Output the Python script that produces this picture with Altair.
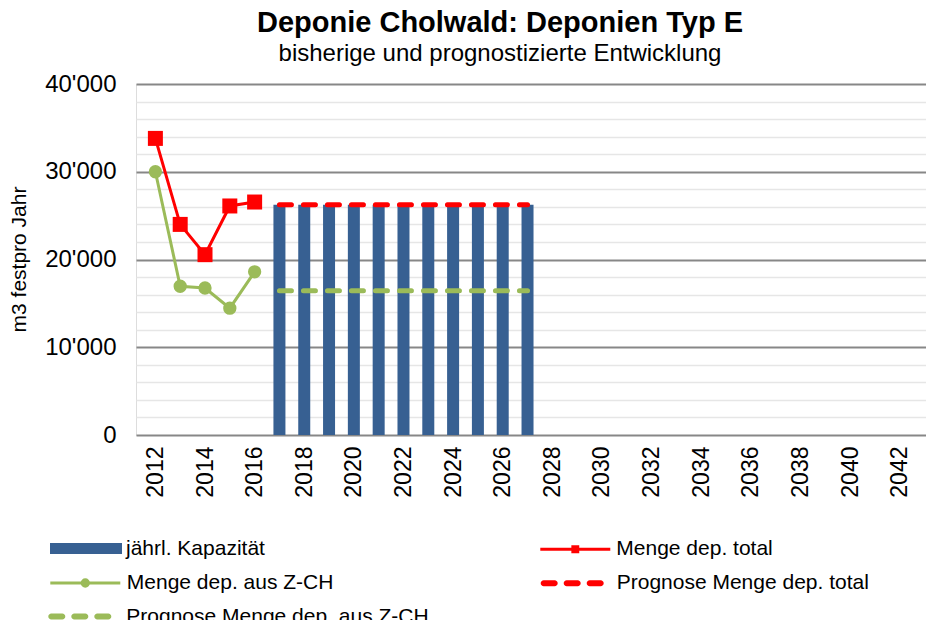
import altair as alt
import pandas as pd

# ---- data ----
years_hist = [2012, 2013, 2014, 2015, 2016]
menge_total = [33800, 24000, 20550, 26100, 26550]
menge_zch = [30000, 16950, 16750, 14450, 18600]

years_prog = [2017, 2018, 2019, 2020, 2021, 2022, 2023, 2024, 2025, 2026, 2027]
kapazitaet = [26250, 26250, 26250, 26250, 26250, 26250, 26250, 26250, 26250, 26250, 26250]
prognose_total = [26250, 26250, 26250, 26250, 26250, 26250, 26250, 26250, 26250, 26250, 26250]
prognose_zch = [16450, 16450, 16450, 16450, 16450, 16450, 16450, 16450, 16450, 16450, 16450]

x_ticks = [2012, 2014, 2016, 2018, 2020, 2022, 2024, 2026, 2028, 2030,
           2032, 2034, 2036, 2038, 2040, 2042]
y_ticks = list(range(0, 40001, 2000))

names = ["jährl. Kapazität", "Menge dep. total", "Menge dep. aus Z-CH",
         "Prognose Menge dep. total", "Prognose Menge dep. aus Z-CH"]

BLUE = "#376092"
RED = "#FF0000"
GREEN = "#9BBB59"
FONT = "Liberation Sans"

# legend symbol shapes (unit coordinates, scaled by the legend symbol size)
SYM_BAR = "M-1,-0.15H1V0.15H-1Z"
SYM_SQUARE_LINE = "M-1,0H1M-0.07,-0.07H0.07V0.07H-0.07Z"
SYM_CIRCLE_LINE = "M-1,0H1M0.09,0A0.09,0.09,0,1,1,-0.09,0A0.09,0.09,0,1,1,0.09,0Z"
R = 0.0952
SYM_DASHES = " ".join(
    f"M{a},{-R}H{b}A{R},{R},0,0,1,{b},{R}H{a}A{R},{R},0,0,1,{a},{-R}Z"
    for a, b in [(-0.9048, -0.5556), (-0.1746, 0.1746), (0.5556, 0.9048)]
)


def frame(years, values, name):
    return pd.DataFrame({"Jahr": years, "Wert": values, "Serie": name})


x_enc = alt.X(
    "Jahr:Q",
    scale=alt.Scale(domain=[2011.42, 2042.86], nice=False, zero=False),
    axis=alt.Axis(values=x_ticks, format="d", labelAngle=270, labelFont=FONT,
                  labelFontSize=23, labelColor="black", labelPadding=11,
                  ticks=False, domain=False, grid=False, title=None,
                  labelOverlap=False),
)
y_enc = alt.Y(
    "Wert:Q",
    scale=alt.Scale(domain=[0, 40000], nice=False),
    axis=alt.Axis(
        values=y_ticks,
        labelExpr="datum.value % 10000 === 0 ? replace(format(datum.value, ','), ',', \"'\") : ''",
        gridColor={"condition": {"test": "datum.value % 10000 === 0", "value": "#878787"},
                   "value": "#e6e6e6"},
        gridWidth={"condition": {"test": "datum.value % 10000 === 0", "value": 2},
                   "value": 1.5},
        ticks=False, domain=False, labelPadding=20, labelFont=FONT,
        labelFontSize=24, labelColor="black", labelOverlap=False,
        title="m3 festpro Jahr", titleFont=FONT, titleFontSize=21,
        titleFontWeight="normal", titleColor="black", titleAngle=270,
        titleBaseline="bottom", titleAlign="center", titleX=-107, titleY=175,
    ),
)


def legend(path, size, sw, lx, ly, lo, fill=None):
    kw = dict(orient="none", legendX=lx, legendY=ly, title=None,
              symbolType=path, symbolSize=size, symbolStrokeWidth=sw,
              labelOffset=lo, labelFont=FONT, labelFontSize=21, labelLimit=500,
              labelColor="black", padding=0, symbolOpacity=1)
    if fill is not None:
        kw["symbolFillColor"] = fill
    return alt.Legend(**kw)


def color(name, col, leg):
    return alt.Color("Serie:N", scale=alt.Scale(domain=[name], range=[col]), legend=leg)


bars = alt.Chart(frame(years_prog, kapazitaet, names[0])).mark_bar(
    orient="vertical", size=12
).encode(
    x=x_enc, y=y_enc,
    color=color(names[0], BLUE, legend(SYM_BAR, 5184, 0, -86, 428.5, 4)),
)

prog_zch = alt.Chart(frame(years_prog, prognose_zch, names[4])).mark_line(
    strokeCap="round"
).encode(
    x=x_enc, y=y_enc,
    strokeWidth=alt.value(5), strokeDash=alt.value([12, 12]),
    color=color(names[4], GREEN,
                legend(SYM_DASHES, 3969, 0, -87.7, 501, 15, fill=GREEN)),
)

prog_total = alt.Chart(frame(years_prog, prognose_total, names[3])).mark_line(
    strokeCap="round"
).encode(
    x=x_enc, y=y_enc,
    strokeWidth=alt.value(5), strokeDash=alt.value([12, 12]),
    color=color(names[3], RED,
                legend(SYM_DASHES, 3969, 0, 404.7, 467.8, 13, fill=RED)),
)

zch = alt.Chart(frame(years_hist, menge_zch, names[2])).mark_line(
    strokeWidth=3,
    point=alt.OverlayMarkDef(shape="circle", size=177, filled=True, opacity=1),
).encode(
    x=x_enc, y=y_enc,
    color=color(names[2], GREEN,
                legend(SYM_CIRCLE_LINE, 4900, 3, -87.2, 462.5, 5, fill=GREEN)),
)

total = alt.Chart(frame(years_hist, menge_total, names[1])).mark_line(
    strokeWidth=3,
    point=alt.OverlayMarkDef(shape="square", size=225, filled=True, opacity=1),
).encode(
    x=x_enc, y=y_enc,
    color=color(names[1], RED,
                legend(SYM_SQUARE_LINE, 4900, 3, 402.8, 428.8, 4.5, fill=RED)),
)

chart = alt.layer(bars, prog_zch, prog_total, zch, total).resolve_scale(
    color="independent"
).properties(
    width=790,
    height=351,
    autosize=alt.AutoSizeParams(type="none"),
    padding={"left": 128, "top": 76, "right": 0, "bottom": 185},
    title=alt.TitleParams(
        text="Deponie Cholwald: Deponien Typ E",
        subtitle="bisherige und prognostizierte Entwicklung",
        font=FONT, fontSize=29, fontWeight="bold", color="black",
        subtitleFont=FONT, subtitleFontSize=24, subtitleColor="black",
        anchor="middle", frame="group", dx=-31, offset=6, subtitlePadding=4,
    ),
).configure_view(stroke=None).configure(background="white")

chart.save("out.html", embed_options={"renderer": "svg", "actions": False})
